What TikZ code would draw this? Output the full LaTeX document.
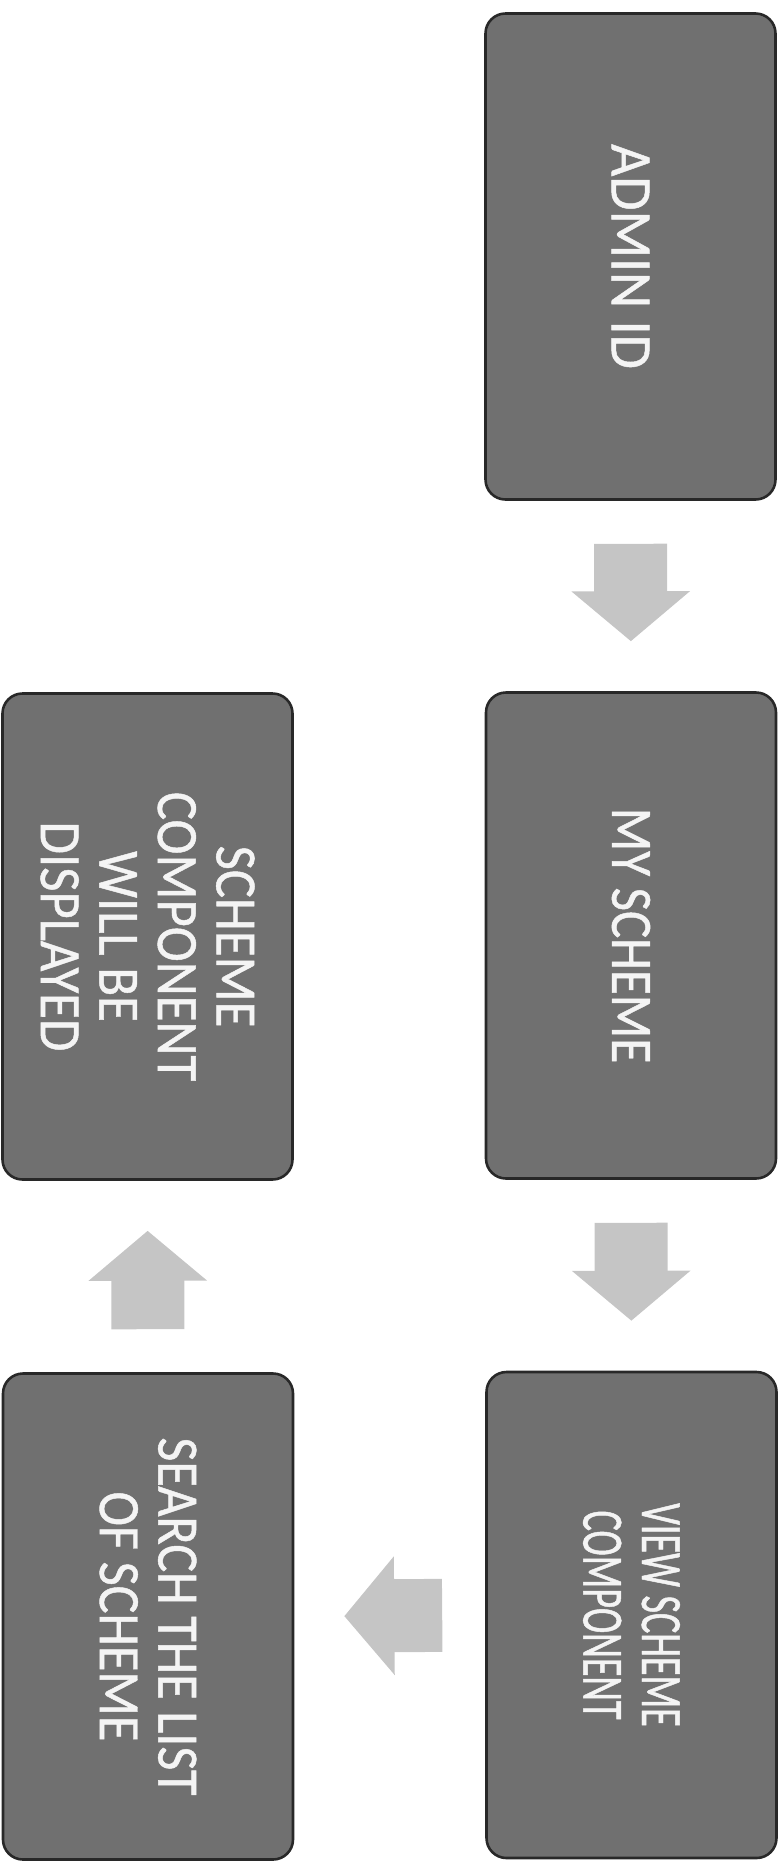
\documentclass[tikz,border=0pt]{standalone}
\usepackage{fontspec}
\usepackage{xcolor}
\usepackage{tikz}
\usetikzlibrary{arrows.meta,positioning}

\newfontfamily\boxfamily[FakeBold=0.8]{Carlito}
\newcommand{\boxfont}{\boxfamily\fontsize{50}{50}\selectfont}

\definecolor{boxgray}{RGB}{112,112,112}
\definecolor{boxedge}{RGB}{40,40,40}
\definecolor{boxtext}{RGB}{244,244,244}
\definecolor{arrowgray}{RGB}{197,197,197}

\begin{document}
\begin{tikzpicture}[
    x=0.03cm, y=-0.03cm,
    % boxes are turned a quarter clockwise: east = bottom, west = top
    box/.style={draw=boxedge, fill=boxgray, line width=2.2pt, rounded corners=0.6cm,
                rotate=-90, minimum width=14.58cm, minimum height=8.7cm,
                inner sep=0pt, align=center, text=boxtext},
    squeeze/.style={font=\boxfont\addfontfeature{FakeStretch=#1}},
    flow/.style={draw=arrowgray, line width=2.19cm,
                 -{Triangle[width=3.48cm, length=1.5cm, fill=arrowgray]},
                 shorten <=1.29cm, shorten >=1.5cm}
]
\useasboundingbox (0,0) rectangle (783,1862);
\node[box, squeeze=0.95] (admin)   at (630.5,256.5) {ADMIN ID};
\node[box, squeeze=0.87] (myscheme) at (631,935.5)  {MY SCHEME};
\node[box, squeeze=0.65] (view)    at (631.5,1615)  {VIEW SCHEME\\COMPONENT};
\node[box, squeeze=0.89] (search)  at (148,1616.5)  {SEARCH THE LIST\\OF SCHEME};
\node[box, squeeze=0.9]  (display) at (147.5,936.5) {SCHEME\\COMPONENT\\WILL BE\\DISPLAYED};
\draw[flow] (admin.east) -- (myscheme.west);
\draw[flow] (myscheme.east) -- (view.west);
\draw[flow] (view.south) -- (search.north);
\draw[flow] (search.west) -- (display.east);
\end{tikzpicture}
\end{document}
